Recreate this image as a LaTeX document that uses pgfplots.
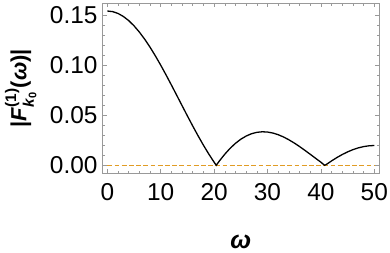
\documentclass[border=0pt]{standalone}
\usepackage{fontspec}
\setmainfont{Liberation Sans}
\usepackage{amsmath}
\usepackage{pgfplots}
\pgfplotsset{compat=1.18}
\definecolor{frm}{HTML}{999999}
\definecolor{mmaorange}{HTML}{E19C24}

\begin{document}
\begin{tikzpicture}
\begin{axis}[
  at={(0,0)},anchor=south west,scale only axis,
  width=277bp,height=170.3bp,
  xmin=-0.94,xmax=50.94,ymin=-0.008,ymax=0.162,
  xtick={0,10,...,50},ytick={0,0.05,0.1,0.15},
  minor x tick num=4,minor y tick num=4,
  tick align=inside,major tick length=4.3bp,minor tick length=2.5bp,
  axis line style={frm,line width=0.6pt},
  tick style={frm,line width=0.5pt},
  /pgf/number format/assume math mode=true,
  tick label style={font=\fontsize{24.5}{29}\selectfont,text=black,inner sep=0pt},
  yticklabel style={/pgf/number format/fixed,/pgf/number format/fixed zerofill,/pgf/number format/precision=2},
  yticklabel shift=4.6bp,
  xticklabel shift=10bp,
  xlabel={\bfseries\itshape ω},
  ylabel={\bfseries|\textit{F}$_{\text{\textit{k}}_{\text{0}}}^{\text{(1)}}$(\textit{ω})|},
  xlabel style={font=\fontsize{25}{30}\selectfont,at={(axis description cs:0.5,-0.4016)},anchor=center,inner sep=0pt},
  ylabel style={font=\fontsize{22}{26}\selectfont,at={(axis description cs:-0.2942,0.5)},anchor=center,inner sep=0pt,rotate=0},
  clip=false]
  \addplot[mmaorange,line width=1.3pt,dash pattern=on 4.8bp off 2.4bp] coordinates {(0,0) (50,0)};
  \addplot[black,line width=1.3pt] coordinates {
    (0,0.15400) (1,0.15339) (2,0.15158) (3,0.14858) (4,0.14444) (5,0.13923)
    (6,0.13300) (7,0.12586) (8,0.11789) (9,0.10922) (10,0.09995)
    (11,0.09022) (12,0.08015) (13,0.06988) (14,0.05954) (15,0.04927)
    (16,0.03918) (17,0.02941) (18,0.02007) (19,0.01126) (20,0.00308)
    (20.4,0) (21,0.00439) (22,0.01109) (23,0.01695) (24,0.02194) (25,0.02602)
    (26,0.02921) (27,0.03149) (28,0.03289) (29,0.03344) (30,0.03319)
    (31,0.03220) (32,0.03053) (33,0.02826) (34,0.02547) (35,0.02226)
    (36,0.01871) (37,0.01493) (38,0.01100) (39,0.00702) (40,0.00307)
    (40.7,0) (41,0.00075) (42,0.00438) (43,0.00773) (44,0.01075) (45,0.01339)
    (46,0.01561) (47,0.01737) (48,0.01865) (49,0.01945) (50,0.01976)};
\end{axis}
\pgfresetboundingbox
\useasboundingbox (-102.3bp,-79.7bp) rectangle (287.7bp,173.3bp);
\end{tikzpicture}
\end{document}
